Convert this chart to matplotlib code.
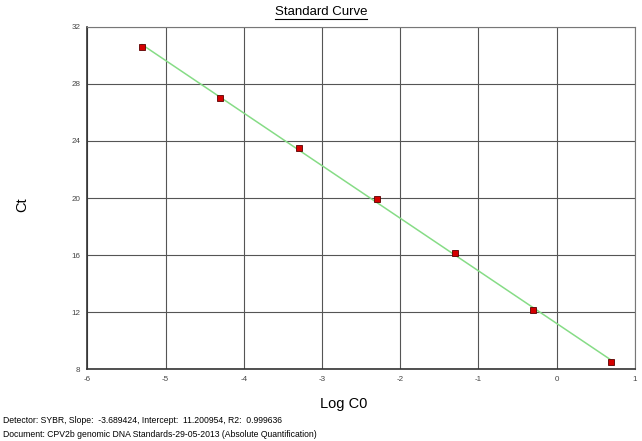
import numpy as np
import matplotlib
matplotlib.use("Agg")
import matplotlib.pyplot as plt
from matplotlib.lines import Line2D

plt.rcParams['font.family'] = ['Liberation Sans', 'DejaVu Sans']
plt.rcParams['axes.unicode_minus'] = False

# standards (log concentration vs Ct)
log_c0 = [-5.3, -4.3, -3.3, -2.3, -1.3, -0.3, 0.7]
ct = [30.62, 27.0, 23.48, 19.93, 16.14, 12.14, 8.49]
slope = -3.689424
intercept = 11.200954
r2 = 0.999636

x_ticks = [-6, -5, -4, -3, -2, -1, 0, 1]
y_ticks = [8, 12, 16, 20, 24, 28, 32]

fig = plt.figure(figsize=(6.42, 4.41), dpi=100)
ax = fig.add_axes([0.136, 0.163, 0.853, 0.776])

fit_x = np.array([log_c0[0], log_c0[-1]])
ax.plot(fit_x, slope * fit_x + intercept, color='#86dc86', lw=1.1, zorder=2)
ax.plot(log_c0, ct, ls='none', marker='s', ms=4.6, mfc='#d40000',
        mec='#5a0000', mew=0.6, zorder=3)

ax.set_xlim(-6, 1)
ax.set_ylim(8, 32)
ax.set_xticks(x_ticks)
ax.set_yticks(y_ticks)
ax.tick_params(length=0, labelsize=5.8, labelcolor='#444444', pad=5)
ax.grid(True, color='#555555', lw=0.8)
for side in ['top', 'right']:
    ax.spines[side].set_color('#777777')
    ax.spines[side].set_linewidth(0.8)
for side in ['left', 'bottom']:
    ax.spines[side].set_color('#333333')
    ax.spines[side].set_linewidth(1.2)

fig.text(0.535, 0.083, 'Log C0', fontsize=10.5, ha='center', va='center')
fig.text(0.034, 0.535, 'Ct', rotation=90, fontsize=10.5, ha='center', va='center')

title = fig.text(0.5, 0.972, 'Standard Curve', fontsize=9.5, ha='center', va='center')
fig.canvas.draw()
bb = title.get_window_extent().transformed(fig.transFigure.inverted())
fig.add_artist(Line2D([bb.x0, bb.x1], [bb.y0 - 0.002, bb.y0 - 0.002],
                      transform=fig.transFigure, color='black', lw=0.8))

fig.text(0.004, 0.046,
         f'Detector: SYBR, Slope:  {slope:.6f}, Intercept:  {intercept:.6f}, R2:  {r2:.6f}',
         fontsize=6.2, ha='left', va='center')
fig.text(0.004, 0.014,
         'Document: CPV2b genomic DNA Standards-29-05-2013 (Absolute Quantification)',
         fontsize=6.2, ha='left', va='center')

fig.savefig('out.png', dpi=100)
